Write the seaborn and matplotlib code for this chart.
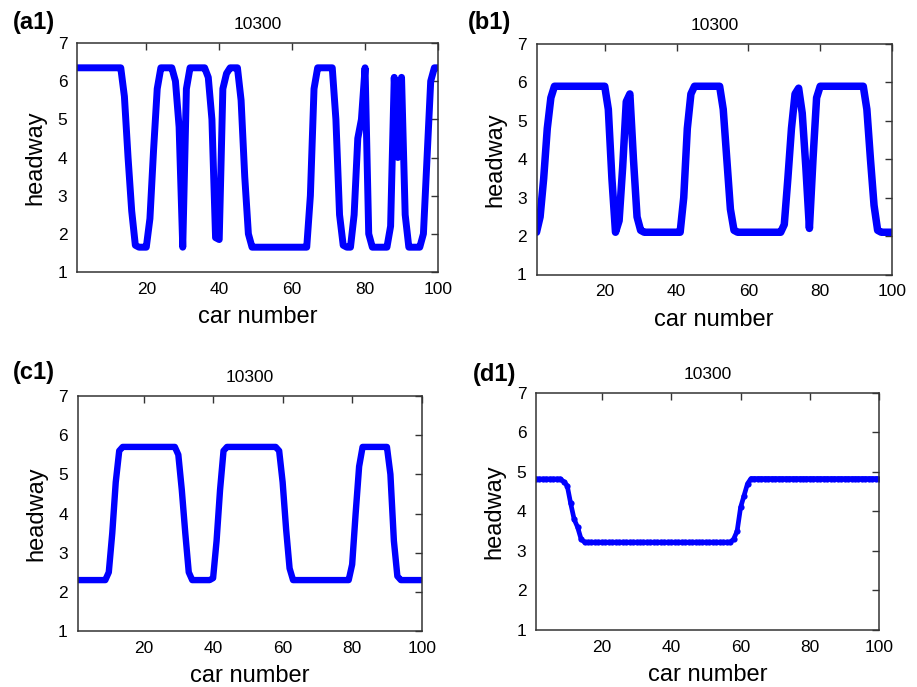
import numpy as np
import pandas as pd
import matplotlib
matplotlib.use("Agg")
import matplotlib.pyplot as plt
import seaborn as sns

# ---------------- data ----------------
cars = list(range(1, 101))

headway_a1 = ([6.35] * 13 +
              [5.6, 4.0, 2.6, 1.7, 1.65, 1.65, 1.65, 2.4, 4.2, 5.8,
               6.35, 6.35, 6.35, 6.35, 6.0, 4.8, 1.65, 5.8, 6.35, 6.35,
               6.35, 6.35, 6.35, 6.1, 5.0, 1.9, 1.85, 5.8, 6.2, 6.35,
               6.35, 6.35, 5.5, 3.5, 2.0] +
              [1.65] * 16 +
              [3.0, 5.8] +
              [6.35] * 5 +
              [5.0, 2.5, 1.7, 1.65, 1.65, 2.5, 4.5, 5.0, 6.35, 2.0] +
              [1.65] * 5 +
              [2.2, 6.1, 4.0, 6.1, 2.5] +
              [1.65] * 4 +
              [2.0, 4.0, 6.0, 6.35, 6.35])

headway_b1 = ([2.1, 2.5, 3.5, 4.8, 5.6] +
              [5.9] * 15 +
              [5.3, 3.5, 2.1, 2.4, 3.8, 5.5, 5.7, 4.0, 2.5, 2.15] +
              [2.1] * 11 +
              [3.0, 4.8, 5.7] +
              [5.9] * 8 +
              [5.3, 4.0, 2.7, 2.15] +
              [2.1] * 13 +
              [2.3, 3.5, 4.8, 5.7, 5.85, 5.2, 3.8, 2.2, 4.0, 5.6] +
              [5.9] * 13 +
              [5.3, 4.0, 2.8, 2.15] +
              [2.1] * 4)

headway_c1 = ([2.3] * 9 +
              [2.5, 3.5, 4.8, 5.6] +
              [5.7] * 16 +
              [5.5, 4.6, 3.5, 2.5] +
              [2.3] * 6 +
              [2.35, 3.3, 4.6, 5.6] +
              [5.7] * 15 +
              [5.6, 4.8, 3.6, 2.6] +
              [2.3] * 17 +
              [2.7, 4.0, 5.2] +
              [5.7] * 8 +
              [5.0, 3.3, 2.4] +
              [2.3] * 7)

headway_d1 = ([4.82] * 8 +
              [4.75, 4.65, 4.2, 3.8, 3.6, 3.3] +
              [3.22] * 43 +
              [3.3, 3.5, 4.1, 4.4, 4.7] +
              [4.83] * 38)

panel_labels = ["(a1)", "(b1)", "(c1)", "(d1)"]
panel_titles = ["10300", "10300", "10300", "10300"]
x_ticks = [20, 40, 60, 80, 100]
y_ticks = [1, 2, 3, 4, 5, 6, 7]
x_label = "car number"
y_label = "headway"

# ---------------- style ----------------
sns.set_style("white")
plt.rcParams["font.family"] = ["Liberation Sans", "DejaVu Sans"]
plt.rcParams["text.color"] = "black"
plt.rcParams["axes.labelcolor"] = "black"

W, H = 917, 687
fig = plt.figure(figsize=(W / 100, H / 100), dpi=100)

# axes rectangles in pixels: left, right, top, bottom
rects = [(77, 438, 43, 272),
         (536.5, 892, 44, 274.5),
         (77.5, 421.7, 396, 631),
         (536, 879.3, 392.7, 630)]
label_pos = [(13, 22), (468, 22), (13, 373), (473, 374)]

series = [headway_a1, headway_b1, headway_c1, headway_d1]
line_w = [5.0, 5.4, 4.6, 3.4]

for i, (l, r, t, b) in enumerate(rects):
    ax = fig.add_axes([l / W, 1 - b / H, (r - l) / W, (b - t) / H])
    df = pd.DataFrame({"car": cars, "headway": series[i]})
    if i == 3:
        sns.lineplot(data=df, x="car", y="headway", ax=ax, color="#0000ff",
                     linewidth=line_w[i], marker="o", markersize=4.5,
                     markeredgewidth=0, markerfacecolor="#0000ff",
                     solid_joinstyle="round", solid_capstyle="round")
    else:
        sns.lineplot(data=df, x="car", y="headway", ax=ax, color="#0000ff",
                     linewidth=line_w[i], solid_joinstyle="round",
                     solid_capstyle="round")
    ax.set_xlim(1, 100)
    ax.set_ylim(1, 7)
    ax.set_xticks(x_ticks)
    ax.set_yticks(y_ticks)
    ax.tick_params(direction="in", length=5, width=1, top=True, right=True,
                   labelsize=12.5, pad=7, color="#333333", labelcolor="black")
    for sp in ax.spines.values():
        sp.set_color("#333333")
        sp.set_linewidth(1.1)
    ax.set_xlabel(x_label, fontsize=17, labelpad=7)
    ax.set_ylabel(y_label, fontsize=17, labelpad=8)
    ax.set_title(panel_titles[i], fontsize=12.5, pad=10)
    fig.text(label_pos[i][0] / W, 1 - label_pos[i][1] / H, panel_labels[i],
             fontsize=17, fontweight="bold", ha="left", va="center")

fig.savefig("out.png", dpi=100)
